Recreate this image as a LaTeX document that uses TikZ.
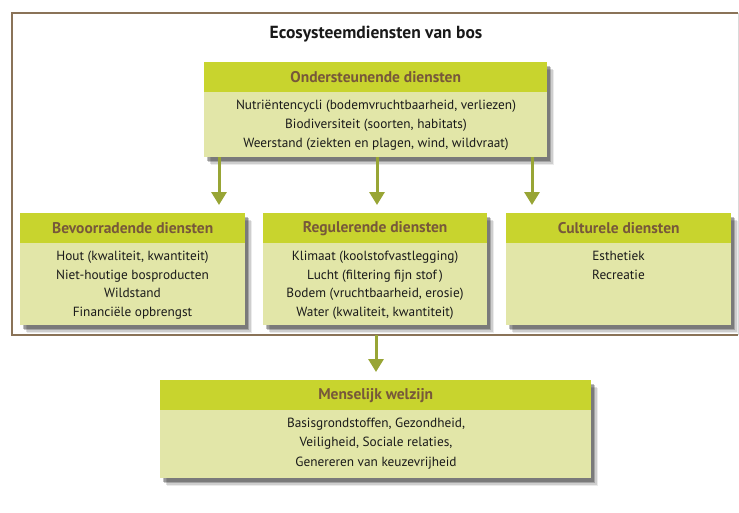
\documentclass[tikz,border=0pt]{standalone}
\usepackage{fontspec}
\setmainfont{PT Sans}
\usetikzlibrary{shadows,arrows.meta,calc}
\definecolor{hdrfill}{HTML}{C8D42E}
\definecolor{bodyfill}{HTML}{E2E6A8}
\definecolor{hdrtext}{HTML}{77583A}
\definecolor{bodytext}{HTML}{1A1A1A}
\definecolor{arrowcol}{HTML}{98A535}
\definecolor{framecol}{HTML}{8A7358}
\tikzset{
  boxbody/.style={rectangle, fill=bodyfill, inner sep=0pt, anchor=north west,
    drop shadow={shadow xshift=7pt, shadow yshift=-8pt, opacity=0.08, fill=black},
    drop shadow={shadow xshift=5.5pt, shadow yshift=-6.5pt, opacity=0.12, fill=black},
    drop shadow={shadow xshift=4pt, shadow yshift=-5pt, opacity=0.2, fill=black},
    drop shadow={shadow xshift=2.5pt, shadow yshift=-3.5pt, opacity=0.25, fill=black}},
  boxhdr/.style={rectangle, fill=hdrfill, inner sep=0pt, anchor=north west,
    minimum height=30pt, font=\bfseries\fontsize{15.5}{17}\selectfont, text=hdrtext},
  boxtext/.style={align=center, anchor=north, inner sep=0pt,
    font=\fontsize{13.3}{19.3}\selectfont, text=bodytext},
  flow/.style={draw=arrowcol, line width=3pt, -{Triangle[width=15pt,length=13pt]}},
}
\begin{document}
\begin{tikzpicture}[x=1pt,y=-1pt]
\useasboundingbox (0,0) rectangle (739,512);
\fill[white] (0,0) rectangle (739,512);
% frame
\draw[framecol, line width=2pt] (738,13) -- (12,13) -- (12,335) -- (738,335);
\draw[black!15, line width=0.6pt] (738,13) -- (738,335);
\node[font=\bfseries\fontsize{17.5}{19}\selectfont, text=black!90] (title) at (376,34) {Ecosysteemdiensten van bos};

% Ondersteunende
\node[boxbody, minimum width=343pt, minimum height=95pt] (ond) at (204,62) {};
\node[boxhdr, minimum width=343pt] (ondh) at (ond.north west) {Ondersteunende diensten};
\node[boxtext] (ondt) at (376,99.5) {Nutriëntencycli (bodemvruchtbaarheid, verliezen)\\Biodiversiteit (soorten, habitats)\\Weerstand (ziekten en plagen, wind, wildvraat)};

% Bevoorradende
\node[boxbody, minimum width=225pt, minimum height=112pt] (bev) at (20,213) {};
\node[boxhdr, minimum width=225pt] (bevh) at (bev.north west) {Bevoorradende diensten};
\node[boxtext, font=\fontsize{13.3}{18.5}\selectfont] (bevt) at (132.5,251) {Hout (kwaliteit, kwantiteit)\\Niet-houtige bosproducten\\Wildstand\\Financiële opbrengst};

% Regulerende
\node[boxbody, minimum width=224pt, minimum height=112pt] (reg) at (263,213) {};
\node[boxhdr, minimum width=224pt] (regh) at (reg.north west) {Regulerende diensten};
\node[boxtext, font=\fontsize{13.3}{18.5}\selectfont] (regt) at (375,251) {Klimaat (koolstofvastlegging)\\Lucht (filtering fijn stof\,)\\Bodem (vruchtbaarheid, erosie)\\Water (kwaliteit, kwantiteit)};

% Culturele
\node[boxbody, minimum width=225pt, minimum height=112pt] (cul) at (506,213) {};
\node[boxhdr, minimum width=225pt] (culh) at (cul.north west) {Culturele diensten};
\node[boxtext, font=\fontsize{13.3}{18.5}\selectfont] (cult) at (618.5,251) {Esthetiek\\Recreatie};

% Menselijk welzijn
\node[boxbody, minimum width=431pt, minimum height=98pt] (mens) at (160,380) {};
\node[boxhdr, minimum width=431pt] (mensh) at (mens.north west) {Menselijk welzijn};
\node[boxtext] (menst) at (376,418) {Basisgrondstoffen, Gezondheid,\\Veiligheid, Sociale relaties,\\Genereren van keuzevrijheid};

% arrows
\coordinate (fb) at (376,335);
\draw[flow] (ond.south -| 219,0) -- ($(bevh.north -| 219,0)+(0,-8)$);
\draw[flow] (ond.south -| 377,0) -- ($(regh.north -| 377,0)+(0,-8)$);
\draw[flow] (ond.south -| 532,0) -- ($(culh.north -| 532,0)+(0,-8)$);
\draw[flow] (fb) -- ($(mensh.north -| fb)+(0,-8)$);
\end{tikzpicture}
\end{document}
